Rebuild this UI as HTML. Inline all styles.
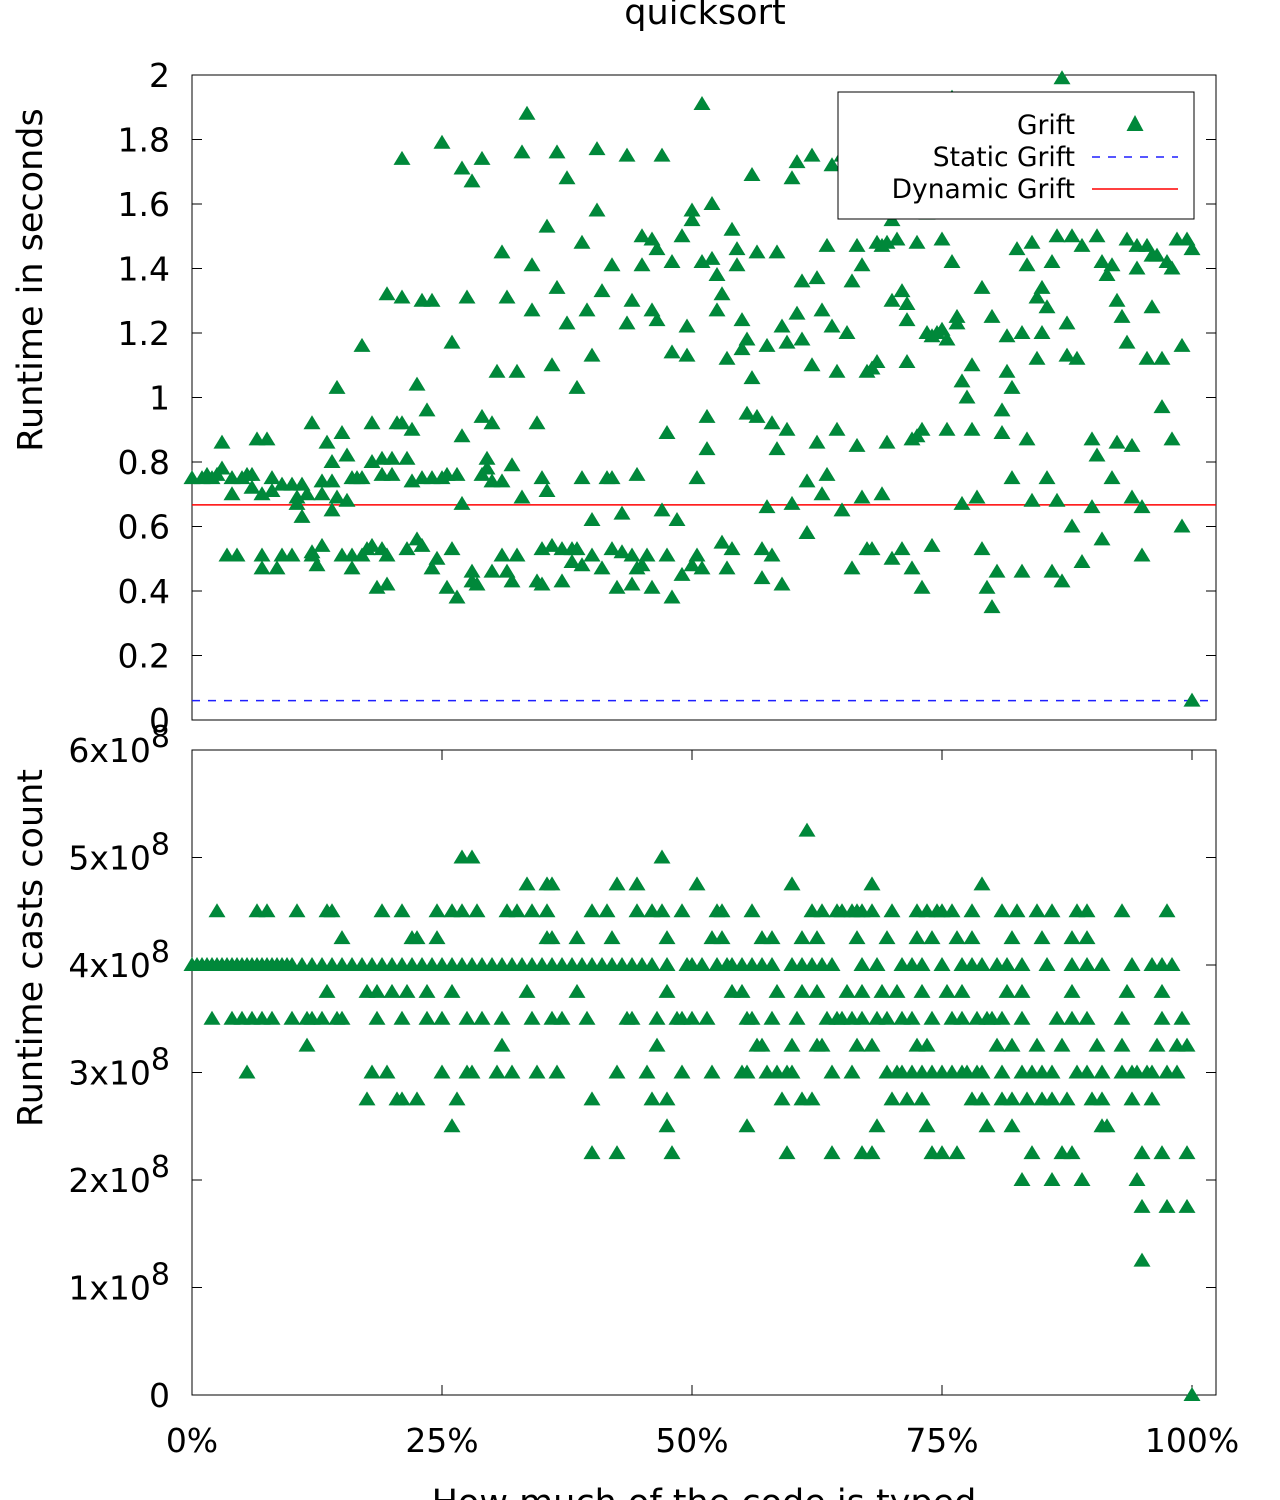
<!DOCTYPE html>
<html><head><meta charset="utf-8"><style>
body{margin:0;background:#fff;}
svg{display:block;font-family:"DejaVu Sans","Liberation Sans",sans-serif;}
</style></head><body>
<svg id="chart" width="1280" height="1500" viewBox="0 0 1280 1500" xmlns="http://www.w3.org/2000/svg">
<text x="705" y="24" font-size="35" text-anchor="middle">quicksort</text>
<g id="top"></g><g id="bot"></g>
<text transform="translate(42,280) rotate(-90)" font-size="35" text-anchor="middle">Runtime in seconds</text>
<text transform="translate(42,948) rotate(-90)" font-size="35" text-anchor="middle">Runtime casts count</text>
<text x="704" y="1514" font-size="35" text-anchor="middle">How much of the code is typed</text>
</svg>
<script>
const NS="http://www.w3.org/2000/svg";
const topX=[0,1,1.5,2,2.5,3,3,3.5,4,4,4.5,5,5.5,6,6,6.5,7,7,7,7.5,8,8,8.5,9,9,10,10,10.5,10.5,11,11,11.5,12,12,12,12.5,13,13,13,13.5,14,14,14,14.5,14.5,15,15,15.5,15.5,16,16,16,16.5,17,17,17,17.5,18,18,18,18.5,19,19,19,19.5,19.5,19.5,20,20,20.5,21,21,21,21.5,21.5,22,22,22.5,22.5,23,23,23,23.5,24,24,24,24.5,25,25,25.5,25.5,26,26,26.5,26.5,27,27,27,27.5,28,28,28,28.5,29,29,29,29.5,29.5,30,30,30,30.5,31,31,31,31.5,31.5,32,32,32.5,32.5,33,33,33.5,34,34,34.5,34.5,35,35,35,35.5,35.5,36,36,36.5,36.5,37,37,37.5,37.5,38,38,38.5,38.5,39,39,39,39.5,40,40,40,40.5,40.5,41,41,41.5,42,42,42,42.5,43,43,43.5,43.5,44,44,44,44.5,44.5,45,45,45,45.5,46,46,46,46.5,46.5,47,47,47.5,47.5,48,48,48,48.5,49,49,49.5,49.5,50,50,50,50.5,50.5,51,51,51,51.5,51.5,52,52,52.5,52.5,53,53,53.5,53.5,54,54,54.5,54.5,55,55,55.5,55.5,56,56,56.5,56.5,57,57,57.5,57.5,58,58,58.5,58.5,59,59,59.5,59.5,60,60,60.5,60.5,61,61,61.5,61.5,62,62,62.5,62.5,63,63,63.5,63.5,64,64,64.5,64.5,65,65,65.5,66,66,66.5,66.5,67,67,67.5,67.5,68,68,68.5,68.5,69,69,69.5,69.5,70,70,70,70.5,71,71,71.5,71.5,71.5,72,72,72.5,72.5,73,73,73.5,73.5,74,74,74.5,75,75,75.5,75.5,76,76,76.5,76.5,77,77,77.5,78,78,78.5,79,79,79.5,80,80,80.5,81,81,81.5,81.5,82,82,82.5,83,83,83.5,83.5,84,84,84.5,84.5,85,85,85.5,85.5,86,86,86.5,86.5,87,87,87.5,87.5,88,88,88.5,89,89,90,90,90.5,90.5,91,91,91.5,92,92,92.5,92.5,93,93.5,93.5,94,94,94.5,94.5,95,95,95.5,95.5,96,96,96.5,97,97,97.5,98,98,98.5,99,99,99.5,100,100];
const topY=[0.75,0.75,0.76,0.75,0.76,0.78,0.86,0.51,0.75,0.70,0.51,0.75,0.76,0.72,0.76,0.87,0.47,0.51,0.70,0.87,0.75,0.71,0.47,0.73,0.51,0.73,0.51,0.69,0.67,0.73,0.63,0.70,0.52,0.92,0.51,0.48,0.74,0.70,0.54,0.86,0.80,0.65,0.74,1.03,0.69,0.89,0.51,0.82,0.68,0.75,0.51,0.47,0.75,0.75,0.51,1.16,0.53,0.80,0.92,0.54,0.41,0.81,0.53,0.76,1.32,0.42,0.51,0.81,0.76,0.92,0.92,1.31,1.74,0.81,0.53,0.90,0.74,0.56,1.04,0.75,1.30,0.54,0.96,0.75,0.47,1.30,0.50,1.79,0.75,0.76,0.41,0.53,1.17,0.76,0.38,0.67,0.88,1.71,1.31,0.46,0.43,1.67,0.42,0.76,1.74,0.94,0.81,0.78,0.92,0.74,0.46,1.08,0.51,0.74,1.45,0.46,1.31,0.43,0.79,1.08,0.51,1.76,0.69,1.88,1.41,1.27,0.43,0.92,0.42,0.53,0.75,0.71,1.53,1.10,0.54,1.34,1.76,0.53,0.43,1.68,1.23,0.53,0.49,1.03,0.53,1.48,0.75,0.48,1.27,1.13,0.51,0.62,1.77,1.58,1.33,0.47,0.75,0.75,1.41,0.53,0.41,0.64,0.52,1.75,1.23,1.30,0.42,0.51,0.47,0.76,0.48,1.50,1.41,0.51,1.49,0.41,1.27,1.46,1.24,0.65,1.75,0.89,0.51,0.38,1.14,1.42,0.62,1.50,0.45,1.13,1.22,1.58,0.48,1.55,0.51,0.75,1.91,0.47,1.42,0.84,0.94,1.43,1.60,1.27,1.38,1.32,0.55,1.12,0.47,1.52,0.53,1.41,1.46,1.24,1.15,0.95,1.18,1.06,1.69,1.45,0.94,0.44,0.53,1.16,0.66,0.51,0.92,0.84,1.45,1.22,0.42,1.17,0.90,0.67,1.68,1.73,1.26,1.18,1.36,0.74,0.58,1.10,1.75,1.37,0.86,1.27,0.70,0.76,1.47,1.22,1.72,1.08,0.90,0.65,1.75,1.20,0.47,1.36,0.85,1.47,0.69,1.41,1.08,0.53,1.09,0.53,1.48,1.11,0.70,1.47,1.48,0.86,1.30,1.55,0.50,1.49,0.53,1.33,1.29,1.24,1.11,0.87,0.47,0.88,1.48,0.90,0.41,1.20,1.57,1.19,0.54,1.20,1.49,1.21,1.18,0.90,1.93,1.42,1.25,1.23,1.05,0.67,1.00,1.10,0.90,0.69,0.53,1.34,0.41,0.35,1.25,0.46,0.89,0.96,1.19,1.08,1.03,0.75,1.46,0.46,1.20,1.41,0.87,0.68,1.48,1.12,1.31,1.34,1.20,1.28,0.75,0.46,1.42,1.50,0.68,1.99,0.43,1.13,1.23,1.50,0.60,1.12,0.49,1.47,0.87,0.66,1.50,0.82,0.56,1.42,1.38,0.75,1.41,0.86,1.30,1.25,1.17,1.49,0.85,0.69,1.40,1.47,0.51,0.66,1.12,1.47,1.28,1.44,1.44,0.97,1.12,1.42,1.40,0.87,1.49,0.60,1.16,1.49,1.46,0.06];
const staticGrift=[0.06];
const dynamicGrift=[0.667];
const topTicks=["0","0.2","0.4","0.6","0.8","1","1.2","1.4","1.6","1.8","2"];
const topTickVals=[0,0.2,0.4,0.6,0.8,1,1.2,1.4,1.6,1.8,2];
const castLevels=[4.0,4.5,3.5,3.0,3.25,3.75,4.25,4.75,2.75,2.5,2.25,2.0,1.75,1.25,5.0,5.25,0];
const castX=[
[0,0.5,1,1.5,2,2.5,3,3.5,4,4.5,5,5.5,6,6.5,7,7.5,8,8.5,9,9.5,10,11,12,13,14,15,16,17,18,19,20,21,22,23,24,25,26,27,28,29,30,31,32,33,34,35,36,37,38,39,40,41,42,43,44,45,46,47.5,49.5,50,51,52.5,53.5,54,55,56,57,58,60,61,62,63,64,67,68.5,71,72,73,75,77,78,79,80.5,81.5,83,85.5,88,89.5,91,94,96,97,98],
[2.5,6.5,7.5,10.5,13.5,14,19,21,24.5,26,27,28.5,31.5,32.5,34,35.5,40,41.5,44.5,46,47,49,52.5,53,56,62,63,64.5,65,66,66.5,67,68,70,72.5,73.5,74.5,75,76,78,81,82.5,84.5,86,88.5,89.5,93,97.5],
[2,4,5,6,7,8,10,11.5,12,13,14.5,15,18.5,21,23.5,25,27.5,29,31,34,36,37,39.5,43.5,44,46.5,48.5,49,50,51.5,55.5,56,58,60.5,63.5,64.5,65,66,67,68.5,69.5,71,72,74,76,77,78.5,79.5,80,81,83,86.5,88,89.5,93,97,99],
[5.5,18,19.5,25,27.5,28,30.5,32,34.5,36.5,42.5,45.5,49,52,55,55.5,57.5,58.5,59.5,60,64,66,69.5,70.5,71,72,73,74,75,76,77,77.5,78.5,79,81,83,84,85,86,88.5,89.5,91,93,94,94.5,95.5,96,97.5,98.5],
[11.5,31,46.5,56.5,57,60,62.5,63,66.5,68,72.5,73.5,80.5,82,84.5,87,90.5,93,96.5,98.5,99.5],
[13.5,17.5,18.5,20,21.5,23.5,26,33.5,38.5,47.5,54,55,58.5,61,62.5,65.5,67,69,70.5,73,75.5,77,81.5,83,88,93.5,97],
[15,22,22.5,24.5,35.5,36,38.5,42,47.5,52,53,57,58,61,62.5,66.5,69.5,72.5,74,76.5,78,82,85,88,89.5],
[33.5,35.5,36,42.5,44.5,50.5,60,68,79],
[17.5,20.5,21,22.5,26.5,40,46,47.5,59,61,62,70,71.5,73,78,79,81,82,83.5,85,86,87.5,90,91,94,96],
[26,47.5,55.5,68.5,73.5,79.5,82,91,91.5],
[40,42.5,48,59.5,64,67,68,74,75,76.5,84,87,88,95,97,99.5],
[83,86,89,94.5],
[95,97.5,99.5],
[95],
[27,28,47],
[61.5],
[100]];
const botTicks=["0","1x10","2x10","3x10","4x10","5x10","6x10"];
const botTickVals=[0,1,2,3,4,5,6];
const xTicks=["0%","25%","50%","75%","100%"];
const xTickVals=[0,25,50,75,100];

const L=192,R=1216;
const xs=p=>L+p*10;
const yTop=v=>720-v*322.5;
const yBot=v=>1395-v*107.5;
const GREEN="#00883a";
function mk(tag,attrs,parent){const e=document.createElementNS(NS,tag);for(const k in attrs)e.setAttribute(k,attrs[k]);parent.appendChild(e);return e;}
function tri(g,x,y){const p=mk("polygon",{points:`${x},${y-8} ${x-8.5},${y+6} ${x+8.5},${y+6}`,fill:GREEN},g);

}
function frame(g,top,bot){const r=mk("rect",{x:L,y:top,width:R-L,height:bot-top,fill:"none",stroke:"#000","stroke-width":1},g);

}

const gt=document.getElementById("top");
frame(gt,75,720);
topTickVals.forEach((v,i)=>{const y=yTop(v);
mk("line",{x1:L,x2:L+10,y1:y,y2:y,stroke:"#000"},gt);mk("line",{x1:R-10,x2:R,y1:y,y2:y,stroke:"#000"},gt);
const t=mk("text",{x:170,y:y+12,"font-size":33,"text-anchor":"end"},gt);t.textContent=topTicks[i];

});
const sl=mk("line",{x1:L,x2:R,y1:yTop(staticGrift[0]),y2:yTop(staticGrift[0]),stroke:"#1f1fff","stroke-width":1.5,"stroke-dasharray":"8,8"},gt);


const dl=mk("line",{x1:L,x2:R,y1:yTop(dynamicGrift[0]),y2:yTop(dynamicGrift[0]),stroke:"#ff0000","stroke-width":1.5},gt);


topX.forEach((x,i)=>tri(gt,xs(x),yTop(topY[i])));
const lg=mk("g",{},gt);


mk("rect",{x:838,y:92,width:356,height:127,fill:"#fff",stroke:"#000"},lg);
[["Grift",125],["Static Grift",157],["Dynamic Grift",189]].forEach(([s,y])=>{const t=mk("text",{x:1075,y:y+9,"font-size":26.5,"text-anchor":"end"},lg);t.textContent=s;

});
mk("polygon",{points:"1135,115 1126.5,131 1143.5,131",fill:GREEN},lg);
mk("line",{x1:1092,x2:1178,y1:157,y2:157,stroke:"#1f1fff","stroke-width":1.5,"stroke-dasharray":"8,8"},lg);
mk("line",{x1:1092,x2:1178,y1:189,y2:189,stroke:"#ff0000","stroke-width":1.5},lg);

const gb=document.getElementById("bot");
frame(gb,750,1395);
botTickVals.forEach((v,i)=>{const y=yBot(v);
mk("line",{x1:L,x2:L+10,y1:y,y2:y,stroke:"#000"},gb);mk("line",{x1:R-10,x2:R,y1:y,y2:y,stroke:"#000"},gb);
const t=mk("text",{x:170,y:y+12,"font-size":33,"text-anchor":"end"},gb);


if(v===0){t.textContent="0";}else{t.textContent=botTicks[i];const s=mk("tspan",{dy:-15,"font-size":30},t);s.textContent="8";}});
xTickVals.forEach((v,i)=>{const x=xs(v);mk("line",{x1:x,x2:x,y1:1395,y2:1385,stroke:"#000"},gb);mk("line",{x1:x,x2:x,y1:750,y2:760,stroke:"#000"},gb);
const t=mk("text",{x:x,y:1452,"font-size":33,"text-anchor":"middle"},gb);t.textContent=xTicks[i];

});
castLevels.forEach((lv,i)=>castX[i].forEach(x=>tri(gb,xs(x),yBot(lv))));
</script>
</body></html>
